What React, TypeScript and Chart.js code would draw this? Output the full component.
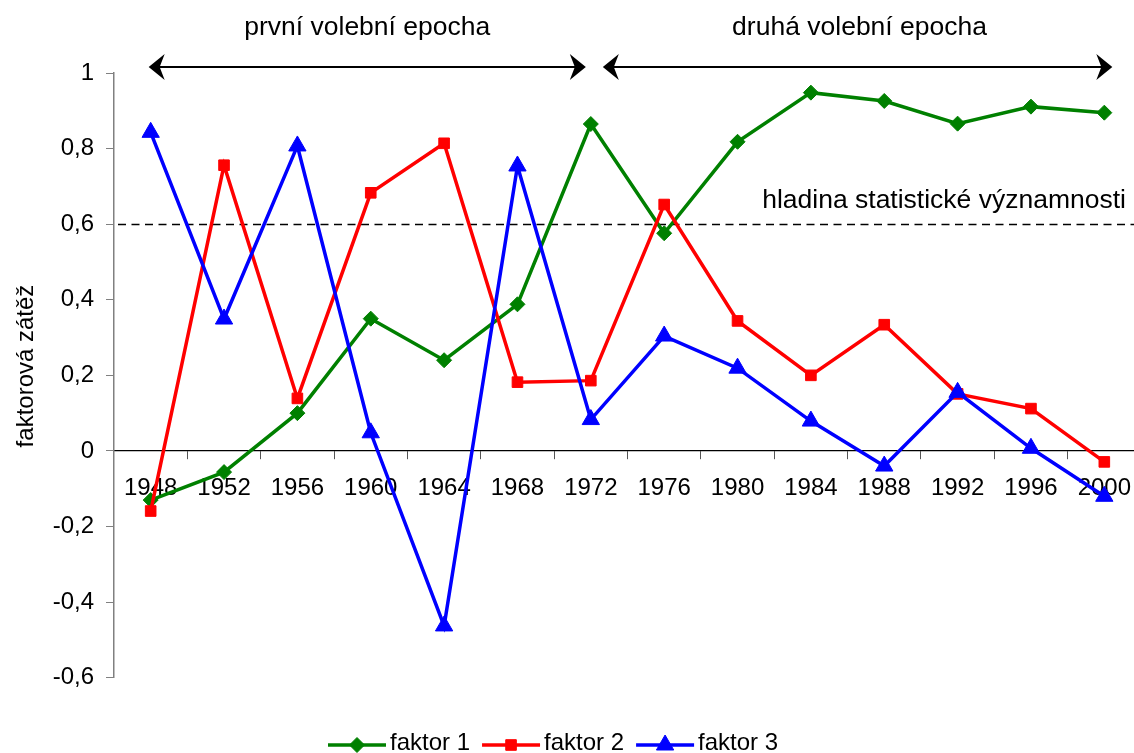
import React, { useEffect, useRef } from 'react';
import { Chart, registerables } from 'chart.js';
import { drawPoint } from 'chart.js/helpers';

Chart.register(...registerables);

// ---- data ----
const years = ['1948', '1952', '1956', '1960', '1964', '1968', '1972', '1976', '1980', '1984', '1988', '1992', '1996', '2000'];
const faktor1 = [-0.13, -0.056, 0.1, 0.35, 0.24, 0.388, 0.865, 0.576, 0.818, 0.948, 0.926, 0.866, 0.911, 0.895];
const faktor2 = [-0.159, 0.756, 0.139, 0.683, 0.814, 0.182, 0.186, 0.652, 0.344, 0.2, 0.334, 0.151, 0.112, -0.029];
const faktor3 = [0.843, 0.349, 0.807, 0.048, -0.463, 0.754, 0.083, 0.304, 0.219, 0.079, -0.04, 0.155, 0.007, -0.12];
const seriesNames = ['faktor 1', 'faktor 2', 'faktor 3'];
const yTicks = [-0.6, -0.4, -0.2, 0, 0.2, 0.4, 0.6, 0.8, 1];
const threshold = 0.6;
const epochLabels = ['první volební epocha', 'druhá volební epocha'];
const thresholdLabel = 'hladina statistické významnosti';
const yTitle = 'faktorová zátěž';

const FONT = "'Liberation Sans', Arial, Helvetica, sans-serif";
const CANVAS_W = 1152;

const fmt = (v: number) => String(Math.round(v * 10) / 10).replace('.', ',');

function arrowHead(ctx: CanvasRenderingContext2D, tipX: number, y: number, dir: number) {
  ctx.beginPath();
  ctx.moveTo(tipX, y);
  ctx.lineTo(tipX - dir * 16, y - 13);
  ctx.lineTo(tipX - dir * 11, y);
  ctx.lineTo(tipX - dir * 16, y + 13);
  ctx.closePath();
  ctx.fill();
}

function doubleArrow(ctx: CanvasRenderingContext2D, l: number, r: number, y: number) {
  ctx.save();
  ctx.strokeStyle = '#000';
  ctx.fillStyle = '#000';
  ctx.lineWidth = 2;
  ctx.setLineDash([]);
  ctx.beginPath();
  ctx.moveTo(l + 8, y);
  ctx.lineTo(r - 8, y);
  ctx.stroke();
  arrowHead(ctx, l, y, -1);
  arrowHead(ctx, r, y, 1);
  ctx.restore();
}

const annotations = {
  id: 'annotations',
  beforeDatasetsDraw(chart: any) {
    const { ctx, chartArea, scales } = chart;
    const py = Math.round(scales.y.getPixelForValue(threshold)) + 0.5;
    ctx.save();
    ctx.strokeStyle = '#000';
    ctx.lineWidth = 1.5;
    ctx.setLineDash([8, 5.5]);
    ctx.beginPath();
    ctx.moveTo(chartArea.left + 4, py);
    ctx.lineTo(chartArea.right, py);
    ctx.stroke();
    ctx.restore();
  },
  afterDraw(chart: any) {
    const { ctx, scales } = chart;
    const x = scales.x;
    const y = scales.y;
    const ay = 67;
    const a1l = x.getPixelForValue(0) - 2;
    const a1r = x.getPixelForValue(6) - 5;
    const a2l = x.getPixelForValue(6) + 12;
    const a2r = x.getPixelForValue(13) + 8;
    doubleArrow(ctx, a1l, a1r, ay);
    doubleArrow(ctx, a2l, a2r, ay);

    ctx.save();
    ctx.fillStyle = '#000';
    ctx.font = `26.5px ${FONT}`;
    ctx.textAlign = 'center';
    ctx.textBaseline = 'alphabetic';
    ctx.fillText(epochLabels[0], (a1l + a1r) / 2, 34.5);
    ctx.fillText(epochLabels[1], (a2l + a2r) / 2 + 2, 35);
    ctx.textAlign = 'right';
    ctx.fillText(thresholdLabel, 1126, y.getPixelForValue(threshold) - 16);

    // y-axis title
    ctx.font = `24px ${FONT}`;
    ctx.save();
    ctx.translate(33, 366);
    ctx.rotate(-Math.PI / 2);
    ctx.textAlign = 'center';
    ctx.fillText(yTitle, 0, 0);
    ctx.restore();

    // legend
    let lx = 328;
    const ly = 745;
    chart.data.datasets.forEach((ds: any) => {
      ctx.setLineDash([]);
      ctx.strokeStyle = ds.borderColor;
      ctx.lineWidth = ds.borderWidth;
      ctx.beginPath();
      ctx.moveTo(lx, ly);
      ctx.lineTo(lx + 58, ly);
      ctx.stroke();
      ctx.fillStyle = ds.pointBackgroundColor;
      ctx.strokeStyle = ds.pointBorderColor;
      ctx.lineWidth = ds.pointBorderWidth;
      drawPoint(ctx, { pointStyle: ds.pointStyle, radius: ds.pointRadius, borderWidth: ds.pointBorderWidth, rotation: 0 } as any, lx + 29, ly);
      ctx.fillStyle = '#000';
      ctx.font = `24px ${FONT}`;
      ctx.textAlign = 'left';
      ctx.textBaseline = 'alphabetic';
      ctx.fillText(ds.label, lx + 62, 750);
      lx += 62 + ctx.measureText(ds.label).width + 12;
    });
    ctx.restore();
  },
};

function series(label: string, data: number[], color: string, pointStyle: string, radius: number, order: number) {
  return {
    label,
    data,
    borderColor: color,
    backgroundColor: color,
    borderWidth: 3.5,
    pointStyle,
    pointRadius: radius,
    pointHoverRadius: radius,
    pointBorderWidth: 1,
    pointBackgroundColor: color,
    pointBorderColor: color,
    tension: 0,
    order,
    clip: false as any,
  };
}

export default function App() {
  const ref = useRef<HTMLCanvasElement>(null);
  useEffect(() => {
    const chart = new Chart(ref.current as HTMLCanvasElement, {
      type: 'line',
      data: {
        labels: years,
        datasets: [
          series(seriesNames[0], faktor1, '#008000', 'rectRot', 7.5, 3),
          series(seriesNames[1], faktor2, '#FF0000', 'rect', 7.5, 2),
          series(seriesNames[2], faktor3, '#0000FF', 'triangle', 10, 1),
        ] as any,
      },
      options: {
        animation: false,
        responsive: false,
        devicePixelRatio: 1,
        events: [],
        layout: { padding: { top: 73, bottom: 75.3, left: 0, right: 0 } },
        plugins: {
          legend: { display: false },
          tooltip: { enabled: false },
          title: { display: false },
        },
        scales: {
          x: {
            type: 'category',
            position: { y: 0 } as any,
            offset: true,
            ticks: {
              font: { family: FONT, size: 24 },
              color: '#000',
              padding: 15,
              maxRotation: 0,
              autoSkip: false,
            },
            grid: { drawOnChartArea: false, drawTicks: true, tickLength: 8, color: '#555', offset: true },
            border: { display: true, color: '#000', width: 1.2 },
          },
          y: {
            type: 'linear',
            min: -0.6,
            max: 1,
            afterFit(scale: any) {
              scale.width = 114;
            },
            afterBuildTicks(scale: any) {
              scale.ticks = yTicks.map((v) => ({ value: v }));
            },
            ticks: {
              font: { family: FONT, size: 24 },
              color: '#000',
              padding: 12,
              callback: (v: any) => fmt(Number(v)),
            },
            grid: { drawOnChartArea: false, drawTicks: true, tickLength: 8, color: '#808080', lineWidth: 1 },
            border: { display: true, color: '#808080', width: 1.5 },
          },
        },
      },
      plugins: [annotations],
    } as any);
    return () => chart.destroy();
  }, []);

  return (
    <div style={{ position: 'fixed', left: 0, top: 0, width: 1134, height: 753, overflow: 'hidden', background: '#fff' }}>
      <canvas ref={ref} width={CANVAS_W} height={753} style={{ display: 'block', width: CANVAS_W, height: 753 }} />
    </div>
  );
}
